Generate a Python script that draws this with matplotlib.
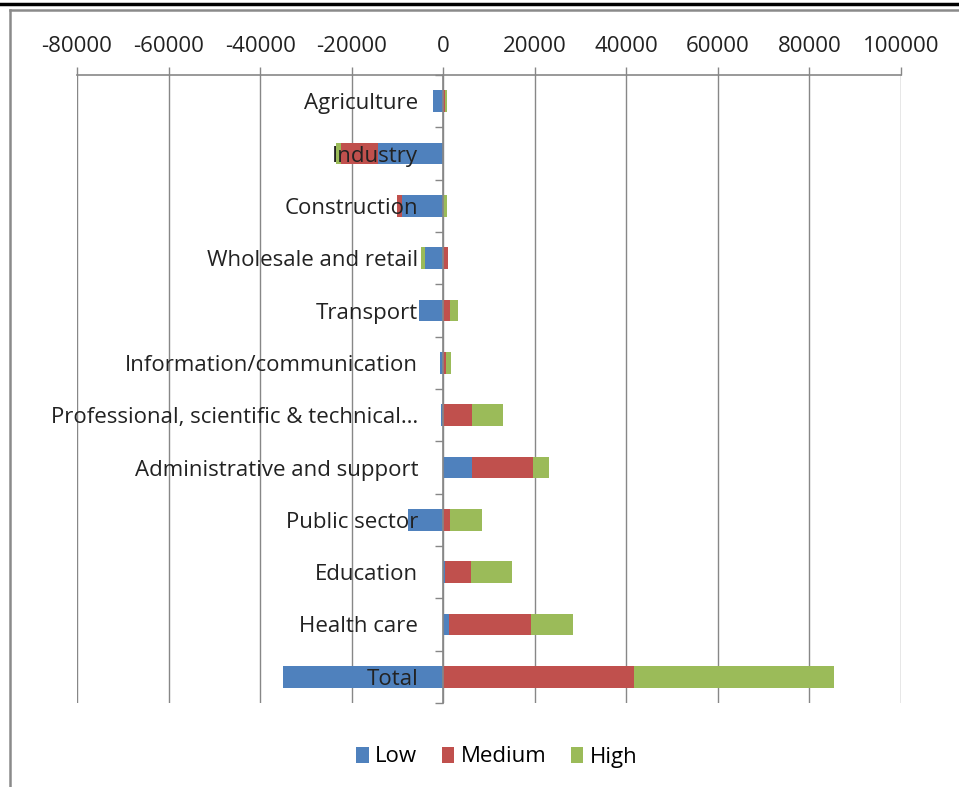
import matplotlib.pyplot as plt
import numpy as np
from matplotlib.lines import Line2D

# ---- data: employment change by sector and skill level ----
sectors = ['Agriculture', 'Industry', 'Construction', 'Wholesale and retail',
           'Transport', 'Information/communication',
           'Professional, scientific & technical…', 'Administrative and support',
           'Public sector', 'Education', 'Health care', 'Total']
low = [-2200, -14200, -9000, -4000, -5400, -700, -500, 6250, -7650, 450, 1250, -34900]
medium = [400, -8200, -1100, 950, 1450, 700, 6250, 13400, 1500, 5600, 17900, 41700]
high = [500, -1100, 900, -950, 1700, 1100, 6700, 3400, 6900, 8900, 9250, 43700]
series_names = ['Low', 'Medium', 'High']
series_colors = ['#4F81BD', '#C0504D', '#9BBB59']
x_ticks = np.arange(-80000, 100001, 20000)

plt.rcParams['font.family'] = ['Open Sans', 'DejaVu Sans']
grey = '#878787'
fs = 16

fig = plt.figure(figsize=(9.59, 7.87), dpi=100)
ax = fig.add_axes([77 / 959, 1 - 703 / 787, (901 - 77) / 959, (703 - 75) / 787])

y = np.arange(len(sectors))
pos_base = np.zeros(len(sectors))
neg_base = np.zeros(len(sectors))
for vals, name, col in zip([low, medium, high], series_names, series_colors):
    vals = np.array(vals, dtype=float)
    left = np.where(vals >= 0, pos_base, neg_base)
    ax.barh(y, vals, left=left, height=0.42, color=col, label=name, zorder=1)
    pos_base += np.where(vals >= 0, vals, 0)
    neg_base += np.where(vals < 0, vals, 0)

# vertical gridlines behind the bars
for v in x_ticks:
    ax.axvline(v, color=grey, lw=1.0, zorder=0)

ax.set_xlim(-80000, 100000)
ax.set_ylim(len(sectors) - 0.5, -0.5)
ax.set_xticks(x_ticks)
ax.set_xticklabels([str(v) for v in x_ticks])
ax.xaxis.tick_top()
ax.tick_params(axis='x', which='major', direction='out', length=6, width=1,
               color=grey, labelsize=fs, pad=7, labelcolor='#222222')

# category axis sits at zero, labels to its left
ax.spines['left'].set_position(('data', 0))
ax.set_yticks(y)
ax.set_yticklabels(sectors)
ax.set_yticks(np.arange(-0.5, len(sectors)), minor=True)
ax.tick_params(axis='y', which='major', length=0, pad=18, labelsize=fs,
               labelcolor='#222222')
ax.tick_params(axis='y', which='minor', direction='out', length=6, width=1, color=grey)

for s in ['right', 'bottom']:
    ax.spines[s].set_visible(False)
for s in ['left', 'top']:
    ax.spines[s].set_color(grey)
    ax.spines[s].set_linewidth(1.2)

ax.legend(loc='center', bbox_to_anchor=(497 / 959, 1 - 757 / 787),
          bbox_transform=fig.transFigure, ncol=3, frameon=False, fontsize=fs,
          handlelength=0.55, handleheight=0.7, handletextpad=0.3, columnspacing=1.1)

# chart frame and the edge of the heading above it
fig.add_artist(Line2D([0, 1], [1 - 4 / 787] * 2, transform=fig.transFigure,
                      color='black', lw=2.5))
fig.add_artist(Line2D([9.5 / 959, 1], [1 - 9.5 / 787] * 2, transform=fig.transFigure,
                      color='#8a8a8a', lw=1.8))
fig.add_artist(Line2D([9.5 / 959] * 2, [0, 1 - 9.5 / 787], transform=fig.transFigure,
                      color='#8a8a8a', lw=1.8))

fig.savefig('out.png', dpi=100)
